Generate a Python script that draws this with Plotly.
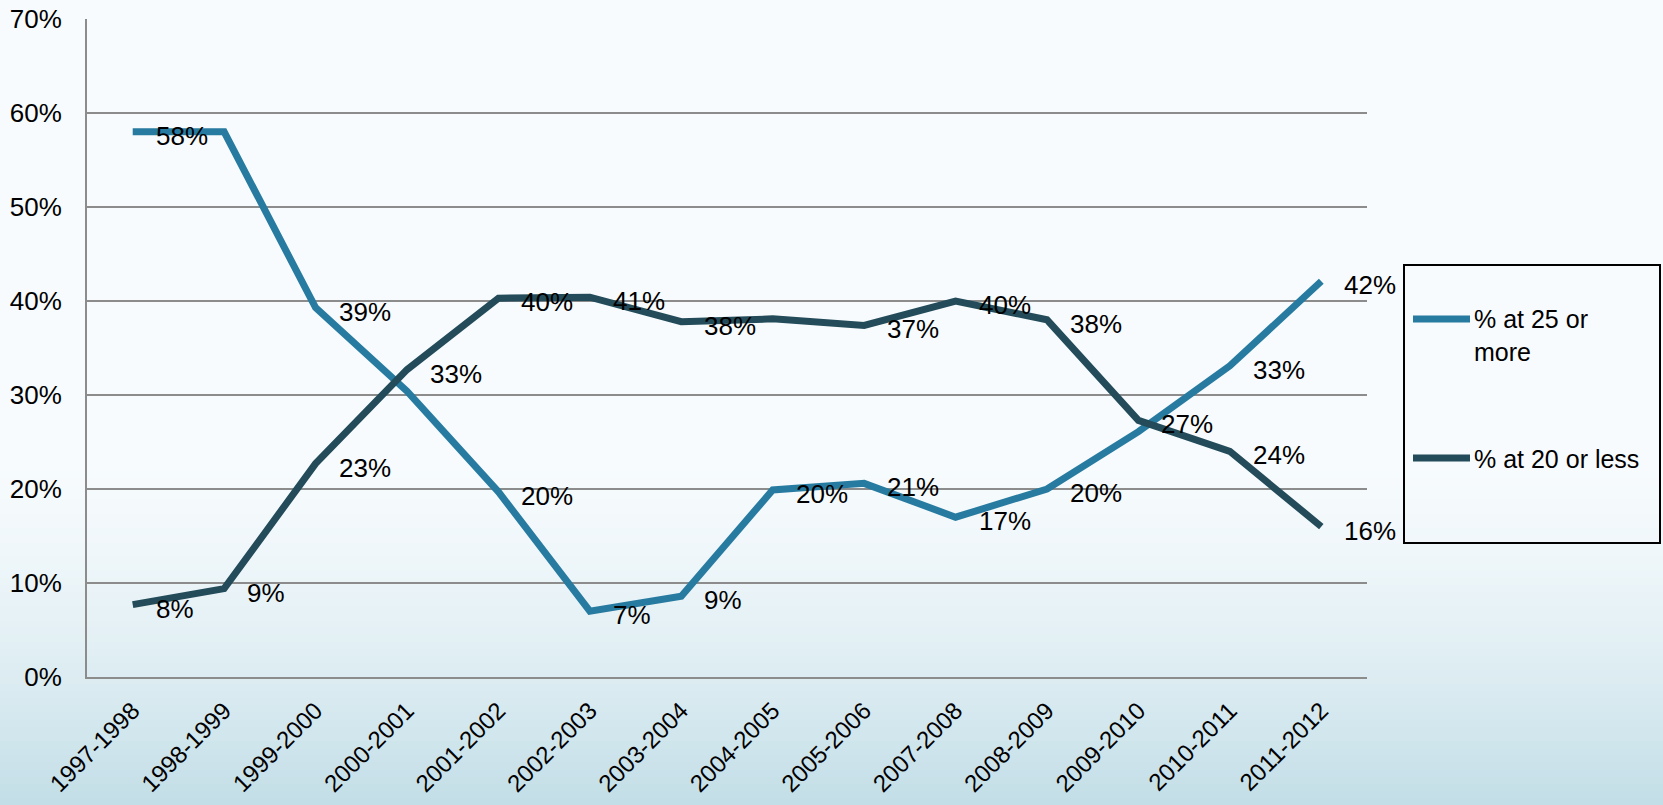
import plotly.graph_objects as go

# data
anos = ['1997-1998', '1998-1999', '1999-2000', '2000-2001', '2001-2002', '2002-2003', '2003-2004',
        '2004-2005', '2005-2006', '2007-2008', '2008-2009', '2009-2010', '2010-2011', '2011-2012']
pct_25_mais = [58.0, 58.0, 39.3, 30.4, 19.7, 7.0, 8.6, 19.9, 20.6, 17.0, 20.0, 26.1, 33.1, 42.1]
pct_20_menos = [7.7, 9.4, 22.7, 32.7, 40.3, 40.4, 37.8, 38.1, 37.4, 40.0, 38.0, 27.3, 24.0, 16.0]
rot_25_mais = ['58%', '', '39%', '', '20%', '7%', '9%', '20%', '21%', '17%', '20%', '', '33%', '42%']
rot_20_menos = ['8%', '9%', '23%', '33%', '40%', '41%', '38%', '', '37%', '40%', '38%', '27%', '24%', '16%']
nomes = ['% at 25 or<br>more', '% at 20 or less']
cores = ['#287BA0', '#234B5A']

W, H = 1663, 805
L, R, T, B = 87, 296, 19, 128
FONTE = 'Liberation Sans, Arial, sans-serif'


def px2x(px):
    return (px - L) / (W - L - R)


def py2y(py):
    return (H - B - py) / (H - T - B)


fig = go.Figure()
for serie, nome, cor in zip([pct_25_mais, pct_20_menos], nomes, cores):
    fig.add_trace(go.Scatter(x=anos, y=serie, mode='lines', name=nome,
                             line=dict(color=cor, width=7), showlegend=False))

# rotulos de dados
for serie, rots in [(pct_25_mais, rot_25_mais), (pct_20_menos, rot_20_menos)]:
    for a, v, t in zip(anos, serie, rots):
        if t:
            fig.add_annotation(x=a, y=v, text=t, showarrow=False, xanchor='left', yanchor='middle',
                               xshift=21, yshift=-4, font=dict(size=26, color='black', family=FONTE))

# fundo em degrade
formas = []
def mistura(c1, c2, f):
    a = [int(c1[i:i + 2], 16) for i in (1, 3, 5)]
    b = [int(c2[i:i + 2], 16) for i in (1, 3, 5)]
    return '#%02x%02x%02x' % tuple(round(a[k] + (b[k] - a[k]) * f) for k in range(3))

formas.append(dict(type='rect', xref='paper', yref='paper', x0=px2x(0), x1=px2x(W), y0=py2y(0), y1=py2y(450),
                   fillcolor='#F7FBFD', line_width=0, layer='below'))
n = 50
for i in range(n):
    y0 = 450 + (H - 450) * i / n
    y1 = 450 + (H - 450) * (i + 1) / n + 1
    f = (i / (n - 1)) ** 1.5
    formas.append(dict(type='rect', xref='paper', yref='paper', x0=px2x(0), x1=px2x(W),
                       y0=py2y(y0), y1=py2y(y1), fillcolor=mistura('#F7FBFD', '#C3DEE7', f),
                       line_width=0, layer='below'))

# legenda desenhada
formas.append(dict(type='rect', xref='paper', yref='paper', x0=px2x(1404), x1=px2x(1660),
                   y0=py2y(265), y1=py2y(543), line=dict(color='black', width=2), fillcolor='rgba(0,0,0,0)'))
for yy, cor in zip([319, 458], cores):
    formas.append(dict(type='line', xref='paper', yref='paper', x0=px2x(1413), x1=px2x(1470),
                       y0=py2y(yy), y1=py2y(yy), line=dict(color=cor, width=7)))
for yy, nome in zip([335, 459], nomes):
    fig.add_annotation(xref='paper', yref='paper', x=px2x(1472), y=py2y(yy), text=nome, showarrow=False,
                       xanchor='left', yanchor='middle', align='left',
                       font=dict(size=25, color='black', family=FONTE))

fig.update_layout(
    width=W, height=H,
    margin=dict(l=L, r=R, t=T, b=B, autoexpand=False),
    paper_bgcolor='#F7FBFD', plot_bgcolor='rgba(0,0,0,0)',
    shapes=formas, showlegend=False,
    font=dict(family=FONTE, color='black'),
)
fig.update_xaxes(range=[-0.5, 13.5], showgrid=False, showline=True, linecolor='#8C8C8C', linewidth=2,
                 tickangle=-45, tickfont=dict(size=24), ticks='', zeroline=False, automargin=False,
                 ticklabelstandoff=8)
fig.update_yaxes(range=[0, 70], dtick=10, ticksuffix='%', showgrid=True, gridcolor='#8C8C8C', gridwidth=2,
                 showline=True, linecolor='#8C8C8C', linewidth=2, tickfont=dict(size=26),
                 ticklabelstandoff=18, zeroline=False, automargin=False)

# tira a margem padrao do body para a figura ocupar a janela toda
fig.write_html('out.html', config={'displayModeBar': False},
               post_script="document.body.style.margin='0';document.body.style.overflow='hidden';")
